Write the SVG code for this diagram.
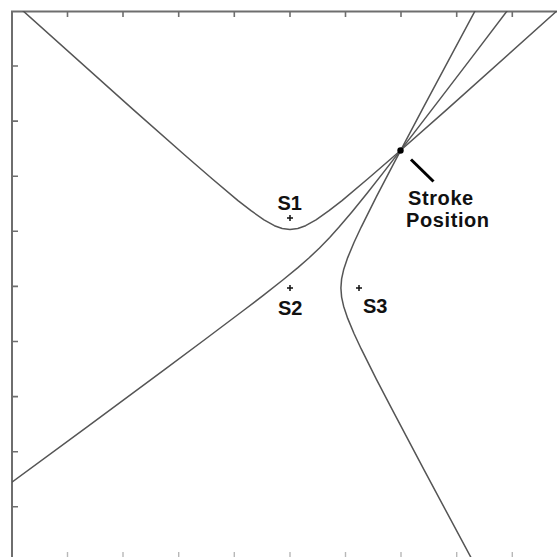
<svg xmlns="http://www.w3.org/2000/svg" width="557" height="557" viewBox="0 0 557 557">
<style>
.axis{stroke:#6e6e6e;stroke-width:2;fill:none}
.tick{stroke:#6e6e6e;stroke-width:1.6}
.btick{stroke:#b8b8b8;stroke-width:1.4}
.curve{stroke:#555;stroke-width:1.5;fill:none;stroke-linejoin:round}
.cross{stroke:#111;stroke-width:1.5}
.lbl{font-family:"Liberation Sans",Arial,sans-serif;font-weight:bold;font-size:20px;fill:#111}
</style>
<defs>
<clipPath id="plot"><rect x="12" y="11" width="560" height="560"/></clipPath>
</defs>
<rect width="557" height="557" fill="#fff"/>
<g id="axes">
<path class="axis" d="M12 557 V11.5 H557"/>
<g class="tick">
<path d="M67.5 11 v6 M123 11 v6 M178.7 11 v6 M234.3 11 v6 M290 11 v6 M345.5 11 v6 M401 11 v6 M456.7 11 v6 M512.3 11 v6"/>
<path d="M12 66 h6 M12 121.1 h6 M12 176.2 h6 M12 231.3 h6 M12 286.4 h6 M12 341.5 h6 M12 396.6 h6 M12 451.7 h6 M12 506.8 h6"/>
</g>
<path class="btick" d="M67.5 552 v5 M123 552 v5 M178.7 552 v5 M234.3 552 v5 M290 552 v5 M345.5 552 v5 M401 552 v5 M456.7 552 v5 M512.3 552 v5"/>
</g>
<g id="connectors" clip-path="url(#plot)">
<path id="hyperbola-s1-s2" class="curve" d="M14.6 3.3 L22.4 10.3 L134.1 110.4 L186.1 156.3 L212.1 178.8 L238 200.6 L251 210.7 L264 219.8 L274.4 225.7 L282.2 228.5 L290 229.55 L297.8 228.5 L305.6 225.7 L316 219.8 L329 210.7 L342 200.6 L367.9 178.8 L393.9 156.3 L445.9 110.4 L557.6 10.3 L565.4 3.3"/>
<path id="hyperbola-s1-s3" class="curve" d="M517 -2.1 L472.4 56.6 L442.6 95.6 L412.7 134.6 L382.7 173.4 L367.5 192.7 L352.1 211.7 L339.5 226.6 L329.7 237.5 L319.5 248 L308.9 258 L297.9 267.6 L282.8 280 L263.6 295.2 L244.1 310 L204.9 339.5 L165.5 368.8 L86.5 427.3 L-4.5 494.3"/>
<path id="hyperbola-s2-s3" class="curve" d="M481.1 -0.4 L424.2 105.8 L392.1 166.6 L376.3 196.9 L361.1 227.3 L354 242.5 L347.7 257.6 L343.6 269.8 L341.6 278.9 L340.9 288 L341.6 297.1 L343.6 306.2 L347.7 318.4 L354 333.5 L361.1 348.7 L376.3 379.1 L392.1 409.4 L424.2 470.2 L481.1 576.4"/>
</g>
<g id="sensor-s1">
<path class="cross" d="M287 218 h6 M290 215 v6"/>
<text class="lbl" x="277.5" y="210">S1</text>
</g>
<g id="sensor-s2">
<path class="cross" d="M287 288 h6 M290 285 v6"/>
<text class="lbl" x="278" y="315">S2</text>
</g>
<g id="sensor-s3">
<path class="cross" d="M356 288 h6 M359 285 v6"/>
<text class="lbl" x="363" y="313">S3</text>
</g>
<g id="stroke-position">
<circle cx="400.5" cy="150.5" r="3.2" fill="#000"/>
<path d="M411 159.5 L433.5 181.5" stroke="#000" stroke-width="3"/>
<text class="lbl" x="408" y="205" letter-spacing="0.6">Stroke</text>
<text class="lbl" x="406" y="226.5" letter-spacing="0.6">Position</text>
</g>
</svg>
